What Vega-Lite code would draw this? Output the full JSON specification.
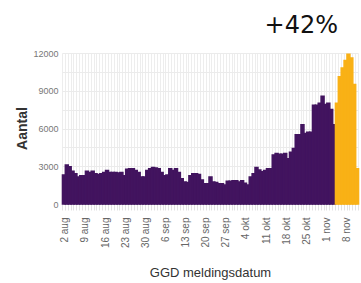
{
  "$schema": "https://vega.github.io/schema/vega-lite/v6.json",
  "width": 296,
  "height": 151,
  "autosize": {"type": "none"},
  "padding": {"left": 62, "top": 53, "right": 3, "bottom": 79},
  "background": "white",
  "title": {
    "text": "+42%",
    "font": "DejaVu Sans",
    "fontSize": 24,
    "fontWeight": "normal",
    "color": "#111111",
    "anchor": "end",
    "frame": "group",
    "baseline": "alphabetic",
    "dx": -20,
    "dy": 29,
    "offset": 21
  },
  "config": {
    "view": {"stroke": null},
    "font": "Liberation Sans"
  },
  "data": {
    "values": [
      {"datum": "2021-08-01", "aantal": 2300, "status": "gemeld"},
      {"datum": "2021-08-02", "aantal": 3100, "status": "gemeld"},
      {"datum": "2021-08-03", "aantal": 2950, "status": "gemeld"},
      {"datum": "2021-08-04", "aantal": 2600, "status": "gemeld"},
      {"datum": "2021-08-05", "aantal": 2400, "status": "gemeld"},
      {"datum": "2021-08-06", "aantal": 2150, "status": "gemeld"},
      {"datum": "2021-08-07", "aantal": 2250, "status": "gemeld"},
      {"datum": "2021-08-08", "aantal": 2250, "status": "gemeld"},
      {"datum": "2021-08-09", "aantal": 2600, "status": "gemeld"},
      {"datum": "2021-08-10", "aantal": 2500, "status": "gemeld"},
      {"datum": "2021-08-11", "aantal": 2600, "status": "gemeld"},
      {"datum": "2021-08-12", "aantal": 2400, "status": "gemeld"},
      {"datum": "2021-08-13", "aantal": 2350, "status": "gemeld"},
      {"datum": "2021-08-14", "aantal": 2400, "status": "gemeld"},
      {"datum": "2021-08-15", "aantal": 2500, "status": "gemeld"},
      {"datum": "2021-08-16", "aantal": 2650, "status": "gemeld"},
      {"datum": "2021-08-17", "aantal": 2500, "status": "gemeld"},
      {"datum": "2021-08-18", "aantal": 2500, "status": "gemeld"},
      {"datum": "2021-08-19", "aantal": 2500, "status": "gemeld"},
      {"datum": "2021-08-20", "aantal": 2450, "status": "gemeld"},
      {"datum": "2021-08-21", "aantal": 2500, "status": "gemeld"},
      {"datum": "2021-08-22", "aantal": 2250, "status": "gemeld"},
      {"datum": "2021-08-23", "aantal": 2750, "status": "gemeld"},
      {"datum": "2021-08-24", "aantal": 2800, "status": "gemeld"},
      {"datum": "2021-08-25", "aantal": 2800, "status": "gemeld"},
      {"datum": "2021-08-26", "aantal": 2650, "status": "gemeld"},
      {"datum": "2021-08-27", "aantal": 2500, "status": "gemeld"},
      {"datum": "2021-08-28", "aantal": 2150, "status": "gemeld"},
      {"datum": "2021-08-29", "aantal": 2150, "status": "gemeld"},
      {"datum": "2021-08-30", "aantal": 2650, "status": "gemeld"},
      {"datum": "2021-08-31", "aantal": 2800, "status": "gemeld"},
      {"datum": "2021-09-01", "aantal": 2900, "status": "gemeld"},
      {"datum": "2021-09-02", "aantal": 2850, "status": "gemeld"},
      {"datum": "2021-09-03", "aantal": 2800, "status": "gemeld"},
      {"datum": "2021-09-04", "aantal": 2500, "status": "gemeld"},
      {"datum": "2021-09-05", "aantal": 2250, "status": "gemeld"},
      {"datum": "2021-09-06", "aantal": 2300, "status": "gemeld"},
      {"datum": "2021-09-07", "aantal": 2800, "status": "gemeld"},
      {"datum": "2021-09-08", "aantal": 2650, "status": "gemeld"},
      {"datum": "2021-09-09", "aantal": 2800, "status": "gemeld"},
      {"datum": "2021-09-10", "aantal": 2500, "status": "gemeld"},
      {"datum": "2021-09-11", "aantal": 2000, "status": "gemeld"},
      {"datum": "2021-09-12", "aantal": 1750, "status": "gemeld"},
      {"datum": "2021-09-13", "aantal": 1700, "status": "gemeld"},
      {"datum": "2021-09-14", "aantal": 2250, "status": "gemeld"},
      {"datum": "2021-09-15", "aantal": 2400, "status": "gemeld"},
      {"datum": "2021-09-16", "aantal": 2400, "status": "gemeld"},
      {"datum": "2021-09-17", "aantal": 2350, "status": "gemeld"},
      {"datum": "2021-09-18", "aantal": 1900, "status": "gemeld"},
      {"datum": "2021-09-19", "aantal": 1600, "status": "gemeld"},
      {"datum": "2021-09-20", "aantal": 1600, "status": "gemeld"},
      {"datum": "2021-09-21", "aantal": 2150, "status": "gemeld"},
      {"datum": "2021-09-22", "aantal": 1750, "status": "gemeld"},
      {"datum": "2021-09-23", "aantal": 1700, "status": "gemeld"},
      {"datum": "2021-09-24", "aantal": 1600, "status": "gemeld"},
      {"datum": "2021-09-25", "aantal": 1600, "status": "gemeld"},
      {"datum": "2021-09-26", "aantal": 1500, "status": "gemeld"},
      {"datum": "2021-09-27", "aantal": 1800, "status": "gemeld"},
      {"datum": "2021-09-28", "aantal": 1800, "status": "gemeld"},
      {"datum": "2021-09-29", "aantal": 1850, "status": "gemeld"},
      {"datum": "2021-09-30", "aantal": 1850, "status": "gemeld"},
      {"datum": "2021-10-01", "aantal": 1750, "status": "gemeld"},
      {"datum": "2021-10-02", "aantal": 1850, "status": "gemeld"},
      {"datum": "2021-10-03", "aantal": 1650, "status": "gemeld"},
      {"datum": "2021-10-04", "aantal": 1500, "status": "gemeld"},
      {"datum": "2021-10-05", "aantal": 2150, "status": "gemeld"},
      {"datum": "2021-10-06", "aantal": 2400, "status": "gemeld"},
      {"datum": "2021-10-07", "aantal": 2900, "status": "gemeld"},
      {"datum": "2021-10-08", "aantal": 2700, "status": "gemeld"},
      {"datum": "2021-10-09", "aantal": 2550, "status": "gemeld"},
      {"datum": "2021-10-10", "aantal": 2650, "status": "gemeld"},
      {"datum": "2021-10-11", "aantal": 2800, "status": "gemeld"},
      {"datum": "2021-10-12", "aantal": 2800, "status": "gemeld"},
      {"datum": "2021-10-13", "aantal": 3900, "status": "gemeld"},
      {"datum": "2021-10-14", "aantal": 4000, "status": "gemeld"},
      {"datum": "2021-10-15", "aantal": 3950, "status": "gemeld"},
      {"datum": "2021-10-16", "aantal": 3950, "status": "gemeld"},
      {"datum": "2021-10-17", "aantal": 4000, "status": "gemeld"},
      {"datum": "2021-10-18", "aantal": 3600, "status": "gemeld"},
      {"datum": "2021-10-19", "aantal": 4100, "status": "gemeld"},
      {"datum": "2021-10-20", "aantal": 4400, "status": "gemeld"},
      {"datum": "2021-10-21", "aantal": 5500, "status": "gemeld"},
      {"datum": "2021-10-22", "aantal": 5500, "status": "gemeld"},
      {"datum": "2021-10-23", "aantal": 6300, "status": "gemeld"},
      {"datum": "2021-10-24", "aantal": 5600, "status": "gemeld"},
      {"datum": "2021-10-25", "aantal": 5700, "status": "gemeld"},
      {"datum": "2021-10-26", "aantal": 5700, "status": "gemeld"},
      {"datum": "2021-10-27", "aantal": 7850, "status": "gemeld"},
      {"datum": "2021-10-28", "aantal": 7850, "status": "gemeld"},
      {"datum": "2021-10-29", "aantal": 8000, "status": "gemeld"},
      {"datum": "2021-10-30", "aantal": 8550, "status": "gemeld"},
      {"datum": "2021-10-31", "aantal": 7900, "status": "gemeld"},
      {"datum": "2021-11-01", "aantal": 8000, "status": "gemeld"},
      {"datum": "2021-11-02", "aantal": 7500, "status": "gemeld"},
      {"datum": "2021-11-03", "aantal": 6300, "status": "gemeld"},
      {"datum": "2021-11-04", "aantal": 8000, "status": "voorlopig"},
      {"datum": "2021-11-05", "aantal": 10100, "status": "voorlopig"},
      {"datum": "2021-11-06", "aantal": 10800, "status": "voorlopig"},
      {"datum": "2021-11-07", "aantal": 11400, "status": "voorlopig"},
      {"datum": "2021-11-08", "aantal": 11900, "status": "voorlopig"},
      {"datum": "2021-11-09", "aantal": 11600, "status": "voorlopig"},
      {"datum": "2021-11-10", "aantal": 9500, "status": "voorlopig"},
      {"datum": "2021-11-11", "aantal": 2800, "status": "voorlopig"}
    ]
  },
  "mark": {"type": "bar", "binSpacing": 0, "strokeWidth": 1.6},
  "encoding": {
    "x": {
      "field": "datum",
      "type": "temporal",
      "timeUnit": "utcyearmonthdate",
      "scale": {
        "type": "utc",
        "domain": [
          {"year": 2021, "month": 8, "date": 1, "utc": true},
          {"year": 2021, "month": 11, "date": 12, "utc": true}
        ]
      },
      "axis": {
        "title": "GGD meldingsdatum",
        "titleFontSize": 13,
        "titleFontWeight": "normal",
        "titleColor": "#333333",
        "titleBaseline": "alphabetic",
        "titleY": 72,
        "tickCount": {"interval": "day", "step": 1},
        "labelExpr": "utcday(datum.value) === 1 ? utcdate(datum.value) + ' ' + ['jan','feb','mrt','apr','mei','jun','jul','aug','sep','okt','nov','dec'][utcmonth(datum.value)] : ''",
        "labelOverlap": false,
        "labelAngle": -90,
        "labelAlign": "right",
        "labelBaseline": "middle",
        "labelPadding": 7,
        "labelFontSize": 10,
        "labelColor": "#666666",
        "labelBound": false,
        "labelFlush": false,
        "domain": false,
        "ticks": true,
        "tickSize": 6,
        "tickColor": "#e2e2e2",
        "grid": true,
        "gridColor": "#ededed",
        "gridWidth": 1
      }
    },
    "y": {
      "field": "aantal",
      "type": "quantitative",
      "scale": {"domain": [0, 12000], "nice": false},
      "axis": {
        "title": "Aantal",
        "titleFontSize": 14,
        "titleFontWeight": "bold",
        "titleColor": "#333333",
        "titleX": -40,
        "titleY": 75,
        "titleBaseline": "middle",
        "titleAlign": "center",
        "values": [0, 1500, 3000, 4500, 6000, 7500, 9000, 10500, 12000],
        "format": "d",
        "labelExpr": "datum.value % 3000 === 0 ? datum.label : ''",
        "labelFontSize": 9,
        "labelColor": "#777777",
        "labelPadding": 4,
        "domain": false,
        "ticks": false,
        "grid": true,
        "gridColor": "#ebebeb"
      }
    },
    "color": {
      "field": "status",
      "type": "nominal",
      "scale": {"domain": ["gemeld", "voorlopig"], "range": ["#42145f", "#f9b116"]},
      "legend": null
    },
    "stroke": {
      "field": "status",
      "type": "nominal",
      "scale": {"domain": ["gemeld", "voorlopig"], "range": ["#42145f", "#f9b116"]},
      "legend": null
    }
  }
}
